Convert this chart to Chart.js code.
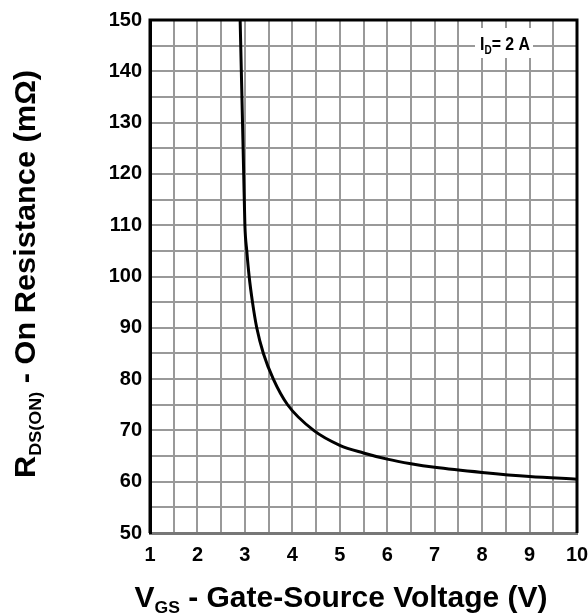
<!DOCTYPE html>
<html>
<head>
<meta charset="utf-8">
<script src="https://cdn.jsdelivr.net/npm/chart.js@4.4.0/dist/chart.umd.min.js"></script>
<style>
  body { margin: 0; background: #fff; }
  #wrap { width: 588px; height: 614px; }
</style>
</head>
<body>
<div id="wrap"><canvas id="myChart" width="588" height="614"></canvas></div>
<script>
// gate-source voltage (V) and on resistance (mOhm)
var vgs = [2.90, 2.925, 2.95, 2.975, 3.0, 3.04, 3.09, 3.16, 3.25, 3.39, 3.6, 3.9, 4.45, 5.0, 5.5, 6.0, 6.5, 7.0, 8.0, 9.0, 10.0];
var rdson = [150, 140, 130, 120, 110, 105, 100, 95, 90, 85, 80, 75, 70, 67.1, 65.6, 64.4, 63.5, 62.8, 61.8, 61.0, 60.5];
var xTicks = [1, 2, 3, 4, 5, 6, 7, 8, 9, 10];
var yTicks = [50, 60, 70, 80, 90, 100, 110, 120, 130, 140, 150];

var FONT = '"Liberation Sans", Arial, sans-serif';

var points = vgs.map(function (v, i) { return { x: v, y: rdson[i] }; });

// frame, I_D label and axis titles (titles need subscripts)
var extras = {
  id: 'extras',
  afterDraw: function (chart) {
    var ctx = chart.ctx;
    var a = chart.chartArea;
    ctx.save();
    ctx.strokeStyle = '#000';
    ctx.lineWidth = 3;
    ctx.beginPath();
    ctx.moveTo(a.left, a.bottom);
    ctx.lineTo(a.left, a.top);
    ctx.lineTo(a.right, a.top);
    ctx.lineTo(a.right, a.bottom);
    ctx.stroke();

    // I_D = 2 A box
    ctx.fillStyle = '#fff';
    ctx.fillRect(475, 28, 58, 30);
    drawTitle(ctx, 'I', 'D', '= 2 A', 505, 50, 0, 19, 12, 50);

    drawTitle(ctx, 'V', 'GS', ' - Gate-Source Voltage (V)', 341, 607, 0, 29, 17, 413);
    drawTitle(ctx, 'R', 'DS(ON)', ' - On Resistance (mΩ)', 35, 274, -Math.PI / 2, 29, 17, 408);
    ctx.restore();
  }
};

function drawTitle(ctx, main, sub, rest, cx, cy, rot, size, subSize, width) {
  var big = 'bold ' + size + 'px ' + FONT;
  var small = 'bold ' + subSize + 'px ' + FONT;
  ctx.font = big;
  var w1 = ctx.measureText(main).width;
  var w3 = ctx.measureText(rest).width;
  ctx.font = small;
  var w2 = ctx.measureText(sub).width;
  var total = w1 + w2 + w3;
  ctx.save();
  ctx.translate(cx, cy);
  ctx.rotate(rot);
  ctx.scale(width / total, 1);
  ctx.fillStyle = '#000';
  ctx.textAlign = 'left';
  ctx.textBaseline = 'alphabetic';
  var x = -total / 2;
  ctx.font = big;
  ctx.fillText(main, x, 0);
  ctx.font = small;
  ctx.fillText(sub, x + w1, subSize * 0.35);
  ctx.font = big;
  ctx.fillText(rest, x + w1 + w2, 0);
  ctx.restore();
}

var ctx = document.getElementById('myChart').getContext('2d');
var myChart = new Chart(ctx, {
  type: 'line',
  data: {
    datasets: [{
      data: points,
      borderColor: '#000',
      borderWidth: 3,
      pointRadius: 0,
      cubicInterpolationMode: 'monotone',
      fill: false
    }]
  },
  options: {
    responsive: false,
    animation: false,
    layout: { padding: { left: 0, right: 11, top: 20, bottom: 0 } },
    plugins: { legend: { display: false }, tooltip: { enabled: false } },
    scales: {
      x: {
        type: 'linear',
        min: 1, max: 10,
        afterFit: function (s) {
          s.height = 81;
          s.paddingLeft = 0;
          s.paddingRight = 0;
        },
        afterBuildTicks: function (s) {
          var t = [];
          for (var v = 1; v <= 10.001; v += 0.5) t.push({ value: v });
          s.ticks = t;
        },
        grid: { color: '#999', lineWidth: 2, drawTicks: false },
        border: { color: '#777', width: 3 },
        ticks: {
          padding: 10,
          color: '#000',
          font: { family: FONT, size: 20, weight: 'bold' },
          autoSkip: false,
          maxRotation: 0,
          callback: function (v) { return xTicks.indexOf(v) >= 0 ? String(v) : ''; }
        }
      },
      y: {
        type: 'linear',
        min: 50, max: 150,
        afterFit: function (s) { s.width = 150; },
        afterBuildTicks: function (s) {
          var t = [];
          for (var v = 50; v <= 150; v += 5) t.push({ value: v });
          s.ticks = t;
        },
        grid: { color: '#999', lineWidth: 2, drawTicks: false },
        border: { color: '#000', width: 3 },
        ticks: {
          padding: 8,
          color: '#000',
          font: { family: FONT, size: 20, weight: 'bold' },
          autoSkip: false,
          callback: function (v) { return yTicks.indexOf(v) >= 0 ? String(v) : ''; }
        }
      }
    }
  },
  plugins: [extras]
});
</script>
</body>
</html>
